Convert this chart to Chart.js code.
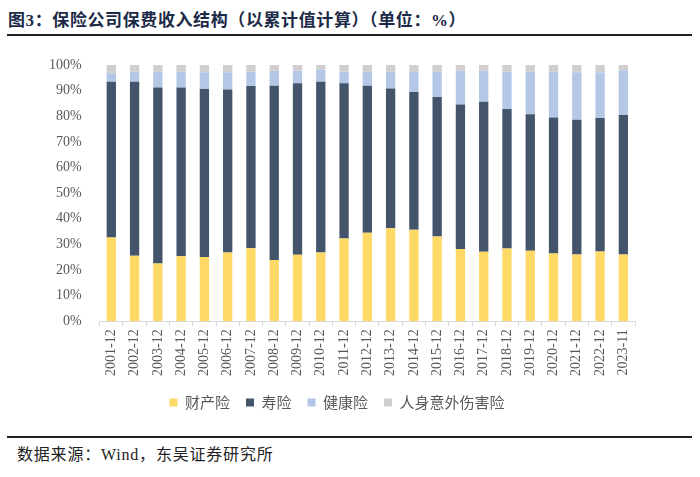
<!DOCTYPE html>
<html>
<head>
<meta charset="utf-8">
<script src="https://cdn.jsdelivr.net/npm/chart.js"></script>
<style>
  body { margin: 0; width: 700px; height: 477px; background: #fff; position: relative; overflow: hidden; }
  .title { position: absolute; left: 8px; top: 6px; font: bold 17px "Liberation Serif", "Noto Sans CJK SC"; letter-spacing: 0.6px; color: #1c2a48; }
  .rule-top { position: absolute; left: 7px; top: 34px; width: 685px; height: 2px; background: #222; }
  .rule-bottom { position: absolute; left: 7px; top: 436px; width: 685px; height: 1.5px; background: #222; }
  .source { position: absolute; left: 17px; top: 441px; font: 16px "Liberation Serif", "Noto Sans CJK SC"; letter-spacing: 0.8px; color: #222; }
  .wrap { position: absolute; left: 0; top: 40px; width: 700px; height: 385px; }
</style>
</head>
<body>
<div class="title">图3：保险公司保费收入结构（以累计值计算）（单位：%）</div>
<div class="rule-top"></div>
<div class="wrap"><canvas id="premiumChart"></canvas></div>
<div class="rule-bottom"></div>
<div class="source">数据来源：Wind，东吴证券研究所</div>
<script>
const categories = ["2001-12", "2002-12", "2003-12", "2004-12", "2005-12", "2006-12", "2007-12", "2008-12",
    "2009-12", "2010-12", "2011-12", "2012-12", "2013-12", "2014-12", "2015-12", "2016-12", "2017-12",
    "2018-12", "2019-12", "2020-12", "2021-12", "2022-12", "2023-11"];

// 各险种占比（%）
const property = [32.7, 25.6, 22.6, 25.4, 25.1, 26.9, 28.5, 23.9, 26.0, 26.9, 32.3, 34.6, 36.3, 35.7, 33.1, 28.2, 27.1, 28.4, 27.5, 26.5, 26.1, 27.2, 26.1];
const life = [60.8, 67.9, 68.6, 65.8, 65.5, 63.5, 63.3, 68.0, 66.9, 66.6, 60.6, 57.3, 54.5, 53.8, 54.4, 56.4, 58.6, 54.4, 53.3, 53.0, 52.5, 52.1, 54.4];
const health = [3.3, 3.9, 6.2, 6.2, 6.6, 6.8, 5.6, 5.9, 4.9, 4.6, 4.5, 5.5, 6.6, 7.8, 9.8, 13.2, 12.1, 14.6, 16.6, 17.9, 18.6, 17.9, 17.5];
const accident = [3.2, 2.6, 2.6, 2.6, 2.8, 2.8, 2.6, 2.2, 2.2, 1.9, 2.6, 2.6, 2.6, 2.7, 2.7, 2.2, 2.2, 2.6, 2.6, 2.6, 2.8, 2.8, 2.0];

const yTicks = [0, 10, 20, 30, 40, 50, 60, 70, 80, 90, 100];

const serif = "'Liberation Serif', 'Times New Roman', serif";

const ctx = document.getElementById("premiumChart").getContext("2d");

function series(label, data, color) {
    return {
        label: label,
        data: data,
        backgroundColor: color,
        borderWidth: 0,
        categoryPercentage: 1,
        barPercentage: 0.4
    };
}

new Chart(ctx, {
    type: "bar",
    data: {
        labels: categories,
        datasets: [
            series("财产险", property, "#ffd966"),
            series("寿险", life, "#44546a"),
            series("健康险", health, "#b4c7e7"),
            series("人身意外伤害险", accident, "#d0cece")
        ]
    },
    options: {
        responsive: true,
        maintainAspectRatio: false,
        animation: false,
        layout: { padding: { left: 39, right: 65, top: 25, bottom: 5 } },
        plugins: {
            tooltip: { enabled: false },
            legend: {
                position: "bottom",
                labels: {
                    boxWidth: 8,
                    boxHeight: 8,
                    padding: 16,
                    color: "#595959",
                    font: { size: 15, family: "'Noto Sans CJK SC', sans-serif" }
                }
            }
        },
        scales: {
            x: {
                stacked: true,
                grid: { display: true, drawOnChartArea: false, offset: true, tickLength: 5, color: "#d9d9d9" },
                border: { color: "#d9d9d9" },
                ticks: {
                    minRotation: 90,
                    maxRotation: 90,
                    autoSkip: false,
                    color: "#595959",
                    font: { size: 14, family: serif }
                }
            },
            y: {
                stacked: true,
                min: 0,
                max: 100,
                afterBuildTicks: axis => { axis.ticks = yTicks.map(v => ({ value: v })); },
                grid: { display: false },
                border: { display: false },
                ticks: {
                    padding: 10,
                    color: "#595959",
                    font: { size: 14, family: serif },
                    callback: v => v + "%"
                }
            }
        }
    }
});
</script>
</body>
</html>
